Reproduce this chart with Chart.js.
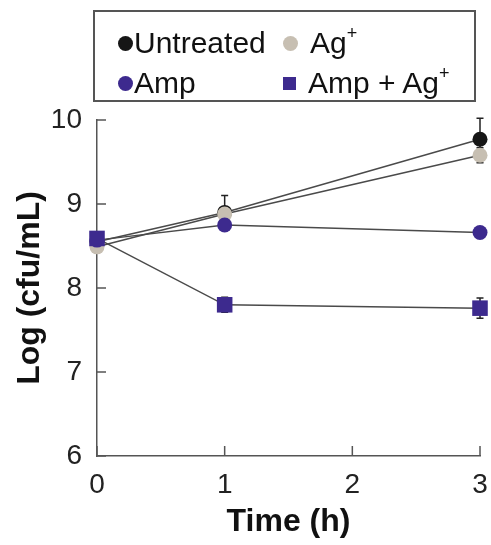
<!DOCTYPE html>
<html>
<head>
<meta charset="utf-8">
<script src="https://cdn.jsdelivr.net/npm/chart.js@4"></script>
<style>
  html, body { margin: 0; padding: 0; background: #fff; }
  #wrap { position: relative; width: 491px; height: 545px; font-family: "Liberation Sans", Arial, sans-serif; }
  #legend { position: absolute; left: 93px; top: 10px; width: 379px; height: 88px; border: 2px solid #555; }
  .item { position: absolute; font-size: 30px; color: #111; line-height: 30px; white-space: nowrap; }
  .item sup { font-size: 18px; vertical-align: 0; position: relative; top: -14px; }
  .mk { position: absolute; }
</style>
</head>
<body>
<div id="wrap">
  <canvas id="chart" width="491" height="545"></canvas>
  <div id="legend"></div>
</div>
<script>
// data
var times = [0, 1, 3];
var timeTicks = [0, 1, 2, 3];
var logTicks = [6, 7, 8, 9, 10];

var seriesNames = ['Untreated', 'Ag', 'Amp', 'Amp + Ag'];
var untreated = [8.55, 8.90, 9.77];
var untreatedErr = [0, 0.20, 0.25];
var agPlus = [8.49, 8.88, 9.58];
var agPlusErr = [0, 0.05, 0.09];
var amp = [8.57, 8.75, 8.66];
var ampErr = [0, 0.03, 0.03];
var ampAg = [8.59, 7.80, 7.76];
var ampAgErr = [0, 0.09, 0.12];

var black = '#161616';
var beige = '#c7bfb2';
var purple = '#3d2a8e';
var lineCol = '#4a4a4a';

function pts(vals) {
    return vals.map(function(v, i) { return { x: times[i], y: v }; });
}

// error bars, drawn under the markers
var errorBars = {
    id: 'errorBars',
    beforeDatasetsDraw: function(chart) {
        var ctx = chart.ctx;
        var y = chart.scales.y;
        ctx.save();
        ctx.strokeStyle = '#222';
        ctx.lineWidth = 1.5;
        chart.data.datasets.forEach(function(ds, i) {
            var meta = chart.getDatasetMeta(i);
            meta.data.forEach(function(p, j) {
                var e = ds.errors[j];
                if (!e) return;
                var y0 = y.getPixelForValue(ds.data[j].y + e);
                var y1 = y.getPixelForValue(ds.data[j].y - e);
                ctx.beginPath();
                ctx.moveTo(p.x, y0); ctx.lineTo(p.x, y1);
                ctx.moveTo(p.x - 3.5, y0); ctx.lineTo(p.x + 3.5, y0);
                ctx.moveTo(p.x - 3.5, y1); ctx.lineTo(p.x + 3.5, y1);
                ctx.stroke();
            });
        });
        ctx.restore();
    }
};

// inward tick marks
var inwardTicks = {
    id: 'inwardTicks',
    afterDraw: function(chart) {
        var ctx = chart.ctx;
        var xs = chart.scales.x, ys = chart.scales.y;
        ctx.save();
        ctx.strokeStyle = '#555';
        ctx.lineWidth = 1.5;
        ctx.beginPath();
        timeTicks.forEach(function(t) {
            var px = xs.getPixelForValue(t);
            ctx.moveTo(px, ys.bottom); ctx.lineTo(px, ys.bottom - 10);
        });
        logTicks.forEach(function(t) {
            var py = ys.getPixelForValue(t);
            ctx.moveTo(xs.left, py); ctx.lineTo(xs.left + 9, py);
        });
        ctx.stroke();
        ctx.restore();
    }
};

var common = { borderColor: lineCol, borderWidth: 1.5, pointBorderWidth: 0, clip: false };

var ctx = document.getElementById('chart').getContext('2d');
var chart = new Chart(ctx, {
    type: 'line',
    data: {
        datasets: [
            Object.assign({ label: 'Amp + Ag+', data: pts(ampAg), errors: ampAgErr, order: 0,
              pointStyle: 'rect', pointRadius: 11, backgroundColor: purple, pointBorderColor: purple }, common),
            Object.assign({ label: 'Amp', data: pts(amp), errors: ampErr, order: 1,
              pointRadius: 7.5, backgroundColor: purple, pointBorderColor: purple }, common),
            Object.assign({ label: 'Ag+', data: pts(agPlus), errors: agPlusErr, order: 2,
              pointRadius: 7.5, backgroundColor: beige, pointBorderColor: beige }, common),
            Object.assign({ label: 'Untreated', data: pts(untreated), errors: untreatedErr, order: 3,
              pointRadius: 7.5, backgroundColor: black, pointBorderColor: black }, common)
        ]
    },
    options: {
        responsive: false,
        animation: false,
        layout: { padding: { top: 120, right: 10, left: 11, bottom: 4 } },
        plugins: { legend: { display: false }, tooltip: { enabled: false } },
        scales: {
            x: {
                type: 'linear', min: 0, max: 3,
                afterBuildTicks: function(s) { s.ticks = timeTicks.map(function(v) { return { value: v }; }); },
                afterFit: function(s) { s.height = 85; s.paddingRight = 0; s.paddingLeft = 0; },
                grid: { display: false, drawTicks: false },
                border: { display: true, color: '#555', width: 1.5 },
                ticks: { color: '#222', font: { family: 'Liberation Sans', size: 28 }, padding: 12 },
                title: { display: true, text: 'Time (h)', color: '#111',
                         font: { family: 'Liberation Sans', size: 32, weight: 'bold' }, padding: { top: 0, bottom: 0 } }
            },
            y: {
                type: 'linear', min: 6, max: 10,
                afterBuildTicks: function(s) { s.ticks = logTicks.map(function(v) { return { value: v }; }); },
                afterFit: function(s) { s.width = 86; s.paddingTop = 0; s.paddingBottom = 0; },
                grid: { display: false, drawTicks: false },
                border: { display: true, color: '#555', width: 1.5 },
                ticks: { color: '#222', font: { family: 'Liberation Sans', size: 28 }, padding: 15 },
                title: { display: true, text: 'Log (cfu/mL)', color: '#111',
                         font: { family: 'Liberation Sans', size: 32, weight: 'bold' }, padding: { top: 0, bottom: 0 } }
            }
        }
    },
    plugins: [errorBars, inwardTicks]
});

// legend built as html, laid out in two columns like the figure
var legendItems = [
    { name: seriesNames[0], sup: false, color: black, shape: 'circle', mx: 30, my: 31, tx: 39, ty: 16 },
    { name: seriesNames[1], sup: true, color: beige, shape: 'circle', mx: 195, my: 31, tx: 215, ty: 16 },
    { name: seriesNames[2], sup: false, color: purple, shape: 'circle', mx: 30, my: 71, tx: 39, ty: 56 },
    { name: seriesNames[3], sup: true, color: purple, shape: 'square', mx: 194, my: 71, tx: 213, ty: 56 }
];
var legend = document.getElementById('legend');
legendItems.forEach(function(it) {
    var m = document.createElement('div');
    m.className = 'mk';
    var sz = it.shape === 'square' ? 13 : 15;
    m.style.width = sz + 'px';
    m.style.height = sz + 'px';
    m.style.left = (it.mx - sz / 2) + 'px';
    m.style.top = (it.my - sz / 2) + 'px';
    m.style.background = it.color;
    if (it.shape === 'circle') m.style.borderRadius = '50%';
    legend.appendChild(m);
    var t = document.createElement('div');
    t.className = 'item';
    t.style.left = it.tx + 'px';
    t.style.top = it.ty + 'px';
    t.innerHTML = it.name + (it.sup ? '<sup>+</sup>' : '');
    legend.appendChild(t);
});
</script>
</body>
</html>
